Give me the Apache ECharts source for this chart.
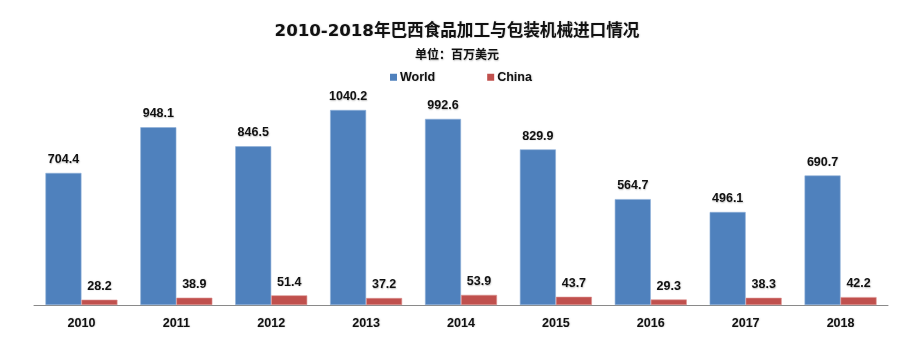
<!DOCTYPE html>
<html>
<head>
<meta charset="utf-8">
<script src="https://cdn.jsdelivr.net/npm/echarts@6/dist/echarts.min.js"></script>
<style>
  html, body { margin: 0; padding: 0; background: #fff; }
  #chart { width: 903px; height: 339px; }
</style>
</head>
<body>
<div id="chart"></div>
<script>
// 巴西食品加工与包装机械进口额（百万美元）
const years = ['2010', '2011', '2012', '2013', '2014', '2015', '2016', '2017', '2018'];
const worldValues = [704.4, 948.1, 846.5, 1040.2, 992.6, 829.9, 564.7, 496.1, 690.7];
const chinaValues = [28.2, 38.9, 51.4, 37.2, 53.9, 43.7, 29.3, 38.3, 42.2];

const TITLE_FONT = '"DejaVu Sans", "Noto Sans CJK SC", sans-serif';
const FONT = '"Liberation Sans", "Noto Sans CJK SC", sans-serif';
const textHalo = {
  textShadowColor: 'rgba(0,0,0,0.25)',
  textShadowBlur: 1.5,
  textShadowOffsetX: 0.5,
  textShadowOffsetY: 0.5
};
const labelStyle = Object.assign({
  show: true,
  position: 'top',
  distance: 7,
  color: '#111',
  fontFamily: FONT,
  fontWeight: 'bold',
  fontSize: 12.5
}, textHalo);

const chart = echarts.init(document.getElementById('chart'));
chart.setOption({
  animation: false,
  title: [
    {
      text: '2010-2018年巴西食品加工与包装机械进口情况',
      left: 457,
      textAlign: 'center',
      top: 23,
      padding: 0,
      textStyle: Object.assign({ fontFamily: TITLE_FONT, fontWeight: 'bold', fontSize: 16.6, color: '#111' }, textHalo)
    },
    {
      text: '单位：百万美元',
      left: 457,
      textAlign: 'center',
      top: 50,
      padding: 0,
      textStyle: Object.assign({ fontFamily: FONT, fontWeight: 'bold', fontSize: 12, color: '#111' }, textHalo)
    }
  ],
  legend: {
    top: 71,
    left: 390,
    padding: 0,
    itemWidth: 7,
    itemHeight: 7,
    itemGap: 52,
    icon: 'rect',
    itemStyle: { borderWidth: 0 },
    textStyle: Object.assign({ fontFamily: FONT, fontWeight: 'bold', fontSize: 12.5, color: '#111', padding: [0, 0, 0, -2] }, textHalo),
    data: ['World', 'China']
  },
  grid: { left: 34, right: 15, top: 80, bottom: 34 },
  xAxis: {
    type: 'category',
    data: years,
    axisLine: { lineStyle: { color: '#8a8a8a', width: 1 } },
    axisTick: { show: false },
    axisLabel: Object.assign({ color: '#111', fontFamily: FONT, fontWeight: 'bold', fontSize: 12.5, margin: 12 }, textHalo)
  },
  yAxis: {
    type: 'value',
    min: 0,
    max: 1200,
    show: false,
    splitLine: { show: false }
  },
  series: [
    {
      name: 'World',
      type: 'bar',
      data: worldValues,
      barWidth: 36,
      barGap: '0%',
      itemStyle: { color: '#4F81BD', borderColor: '#8fb0d8', borderWidth: 0.6 },
      label: labelStyle
    },
    {
      name: 'China',
      type: 'bar',
      data: chinaValues,
      barWidth: 36,
      barGap: '0%',
      itemStyle: { color: '#C0504D', borderColor: '#dc9290', borderWidth: 0.6 },
      label: labelStyle
    }
  ]
});
</script>
</body>
</html>
